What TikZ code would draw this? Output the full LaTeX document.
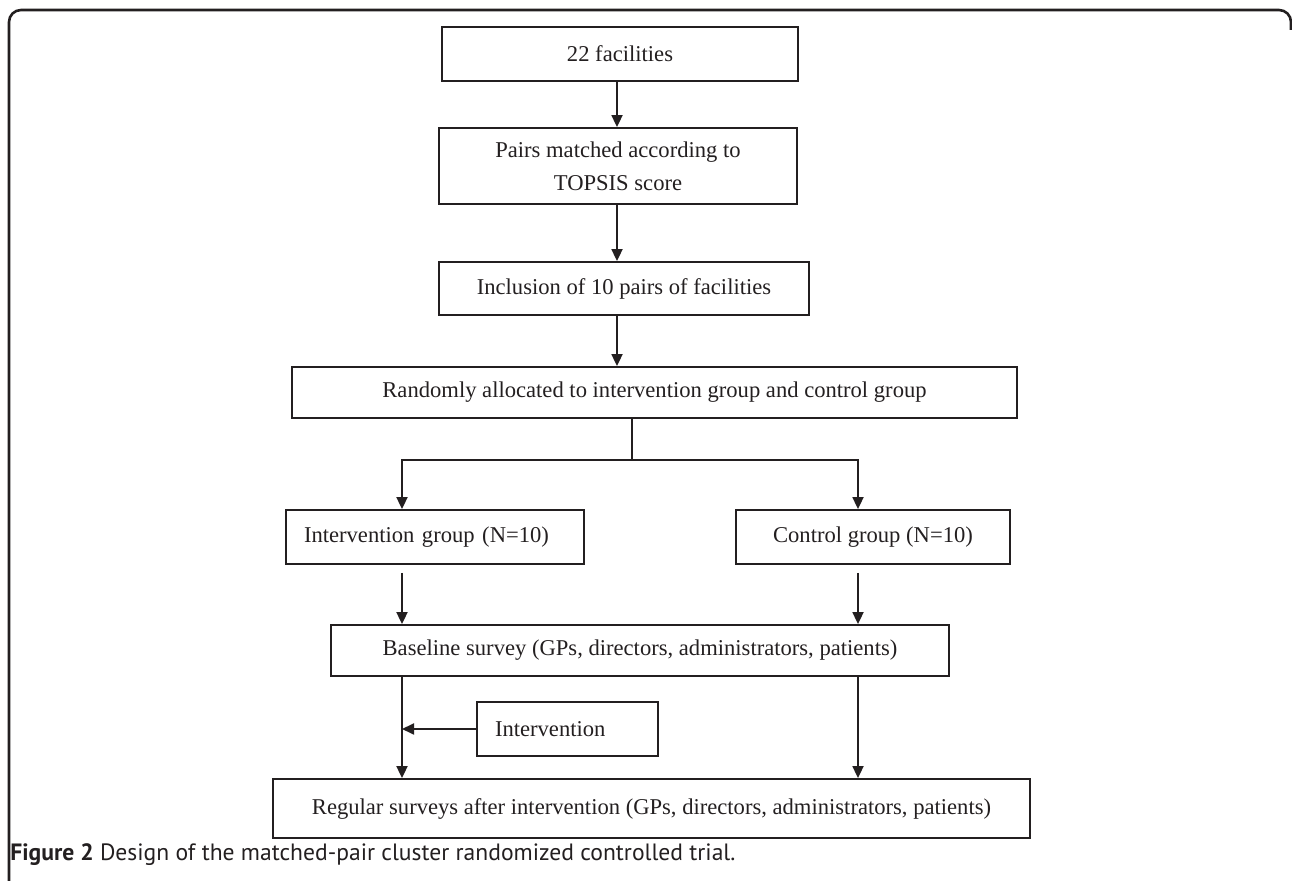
\documentclass[tikz,border=0pt]{standalone}
\usepackage{fontspec}
\setmainfont{Liberation Serif}
\newfontfamily\capfont{PT Sans}
\usetikzlibrary{arrows.meta,calc,positioning}
\definecolor{ink}{HTML}{231F20}
\tikzset{
>={Triangle[length=6pt,width=5.5pt]},
  punkt/.style={
    rectangle,
    draw=ink, line width=0.9pt,
    text=ink,
    font=\fontsize{11.3}{16.5}\selectfont,
    inner sep=0pt,
    align=center},
  leftpunkt/.style={punkt, align=left, inner xsep=9pt},
  line/.style={draw=ink, line width=0.9pt},
  pil/.style={line, ->},
}

\begin{document}
\begin{tikzpicture}[
    x=0.5pt, y=-0.5pt,
    frame/.style={draw=ink, line width=1.3pt, rounded corners=6pt},
    caption/.style={anchor=base west, inner sep=0pt, text=ink,
      font=\capfont\fontsize{11.8}{14}\selectfont}
    ]
\useasboundingbox (0,0) rectangle (1292,881);
\draw[frame] (9,881) -- (9,10) -- (1291,10) -- (1291,30);

% top chain
\node[punkt, minimum width=178pt, minimum height=27pt] (fac) at (620,54) {22 facilities};
\node[punkt, minimum width=179pt, minimum height=38pt] (pairs) at (618,166)
  {Pairs matched according to\\TOPSIS score};
\node[punkt, minimum width=185pt, minimum height=26.5pt] (incl) at (624,288.5)
  {Inclusion of 10 pairs of facilities};
\node[punkt, minimum width=362.5pt, minimum height=25.5pt] (rand) at (654.5,392.5)
  {Randomly allocated to intervention group and control group};

% the two groups
\node[leftpunkt, text width=131pt, minimum height=27pt] (ig) at (435,537)
  {Intervention group (N=10)};
\node[punkt, minimum width=137pt, minimum height=27pt] (cg) at (873,537)
  {Control group (N=10)};
\node[punkt, minimum width=309pt, minimum height=25.5pt] (base) at (640,650.5)
  {Baseline survey (GPs, directors, administrators, patients)};
\node[leftpunkt, text width=72.5pt, minimum height=27pt] (intv) at (567.5,729)
  {Intervention};
\node[punkt, minimum width=378.5pt, minimum height=29.5pt] (reg) at (651.5,808.5)
  {Regular surveys after intervention (GPs, directors, administrators, patients)};

\coordinate (split) at (632,460);
\coordinate (lcol) at (402,0);
\coordinate (rcol) at (858,0);

\draw[pil] (fac.south -| 617,0) -- (pairs.north -| 617,0);
\draw[pil] (pairs.south -| 617,0) -- (incl.north -| 617,0);
\draw[pil] (incl.south -| 617,0) -- (rand.north -| 617,0);

\draw[pil] (rand.south -| split) -- (split) -| (lcol |- ig.north);
\draw[pil] (split) -| (rcol |- cg.north);

\draw[pil, shorten <=4pt] (lcol |- ig.south) -- (lcol |- base.north);
\draw[pil, shorten <=4pt] (rcol |- cg.south) -- (rcol |- base.north);
\draw[pil] (lcol |- base.south) -- (lcol |- reg.north);
\draw[pil] (rcol |- base.south) -- (rcol |- reg.north);
\draw[pil] (intv.west) -- (intv.west -| lcol);

\node[caption] (cap) at (10,861)
  {\textbf{Figure 2} Design of the matched-pair cluster randomized controlled trial.};
\end{tikzpicture}
\end{document}
